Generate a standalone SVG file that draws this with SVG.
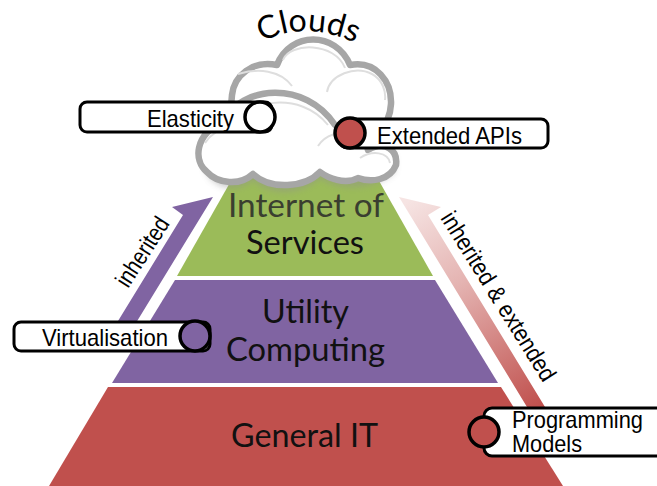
<svg xmlns="http://www.w3.org/2000/svg" width="657" height="486" viewBox="0 0 657 486">
  <style>
    .lab { font-family: "Liberation Sans", Arial, sans-serif; font-size: 24px; fill: #000; }
    .rot { font-family: "Liberation Sans", Arial, sans-serif; font-size: 24px; fill: #000; }
    .tier { font-family: Lato, "Open Sans", sans-serif; font-size: 32px; fill: #111; }
    .box { fill: #fff; stroke: #000; stroke-width: 3; }
    .dot { stroke: #000; stroke-width: 3.5; }
    .cloud { fill: #fff; stroke: #a6a6a6; stroke-width: 6.5; stroke-linejoin: round; }
    .shine { fill: none; stroke: #dedede; stroke-width: 2; }
  </style>
  <defs>
    <linearGradient id="fade" gradientUnits="userSpaceOnUse" x1="410" y1="200" x2="535" y2="410">
      <stop offset="0" stop-color="#f6e4e3"/>
      <stop offset="0.4" stop-color="#e4b3b1"/>
      <stop offset="1" stop-color="#c0504d"/>
    </linearGradient>
    <filter id="soft" x="-20%" y="-30%" width="140%" height="160%">
      <feGaussianBlur stdDeviation="3"/>
    </filter>
    <filter id="soft1" x="-10%" y="-10%" width="120%" height="120%">
      <feGaussianBlur stdDeviation="0.6"/>
    </filter>
    <path id="cloudArc" d="M262,42 Q312,16 372,52"/>
  </defs>

  <g id="connectors">
    <polygon fill="#8064a2" points="213,197 172,207 183,215 99,352 118,352 139,318"/>
    <polygon fill="url(#fade)" points="399,197 441,207 428,215 545,407 560,432 545,432 527,407"/>
  </g>

  <g id="tier-general-it">
    <polygon fill="#c0504d" points="108,387 501,387 563,486 49,486"/>
    <text class="tier" x="231" y="447" textLength="147" lengthAdjust="spacingAndGlyphs">General IT</text>
  </g>
  <g id="tier-utility-computing">
    <polygon fill="#8064a2" points="175,280 435,280 498,383 112,383"/>
    <text class="tier" x="262" y="323" textLength="87" lengthAdjust="spacingAndGlyphs">Utility</text>
    <text class="tier" x="226" y="361" textLength="159" lengthAdjust="spacingAndGlyphs">Computing</text>
  </g>
  <g id="tier-internet-of-services">
    <polygon fill="#9bbb59" points="236,172 374,172 433,276 177,276"/>
    <text class="tier" x="228" y="217" textLength="156" lengthAdjust="spacingAndGlyphs" style="fill:#3a3f30">Internet of</text>
    <text class="tier" x="246" y="254" textLength="118" lengthAdjust="spacingAndGlyphs">Services</text>
  </g>

  <g id="clouds">
    <path fill="#909090" opacity="0.45" filter="url(#soft)" d="M205,170 C215,192 240,192 253,180 C270,196 300,196 320,178 C340,192 375,190 395,172 L395,155 L205,155 Z"/>
    <g filter="url(#soft1)">
      <path class="cloud" d="M277,65 C290,31 336,31 350,65 C376,60 392,82 391,104 C390,125 375,145 340,150 L240,150 C232,130 230,112 232,95 C234,76 252,60 277,65 Z"/>
      <path class="cloud" d="M222,122 C242,85 305,80 335,125 C350,125 365,135 368,150 C385,140 398,150 396,165 C390,180 372,183 358,178 C345,185 328,178 320,172 C305,188 270,190 253,174 C240,186 218,184 207,172 C193,160 195,135 222,122 Z"/>
      <path class="shine" d="M238,74 C258,68 280,70 292,86 M283,60 C290,42 335,42 345,68 M327,92 C330,75 355,65 372,74 C383,80 386,92 385,100 M205,143 C212,132 222,128 232,126 M228,128 C245,100 300,90 328,125 M318,146 C325,135 340,130 352,135 M360,158 C372,150 388,152 390,163"/>
    </g>
    <text font-family="Lato, 'Open Sans', sans-serif" font-size="32" fill="#000"><textPath href="#cloudArc">Clouds</textPath></text>
  </g>

  <g id="label-inherited">
    <text class="rot" transform="translate(128,289) rotate(-57)" textLength="78" lengthAdjust="spacingAndGlyphs">inherited</text>
  </g>
  <g id="label-inherited-extended">
    <text class="rot" transform="translate(440,218) rotate(58)" textLength="195" lengthAdjust="spacingAndGlyphs">inherited &amp; extended</text>
  </g>

  <g id="elasticity">
    <rect class="box" x="80" y="102" width="192" height="30" rx="7"/>
    <text class="lab" x="147" y="127" textLength="87" lengthAdjust="spacingAndGlyphs">Elasticity</text>
    <circle class="dot" cx="260" cy="117" r="15" fill="#fff"/>
  </g>
  <g id="extended-apis">
    <rect class="box" x="340" y="119" width="208" height="29" rx="7"/>
    <text class="lab" x="377" y="144" textLength="145" lengthAdjust="spacingAndGlyphs">Extended APIs</text>
    <circle class="dot" cx="350" cy="133" r="15" fill="#c0504d"/>
  </g>
  <g id="virtualisation">
    <rect class="box" x="14" y="322" width="196" height="29" rx="7"/>
    <text class="lab" x="42" y="346" textLength="126" lengthAdjust="spacingAndGlyphs">Virtualisation</text>
    <circle class="dot" cx="195" cy="336" r="15" fill="#8064a2"/>
  </g>
  <g id="programming-models">
    <rect class="box" x="484" y="408" width="190" height="48" rx="8"/>
    <text class="lab" x="512" y="428" textLength="131" lengthAdjust="spacingAndGlyphs">Programming</text>
    <text class="lab" x="512" y="452" textLength="70" lengthAdjust="spacingAndGlyphs">Models</text>
    <circle class="dot" cx="484" cy="432" r="15" fill="#c0504d"/>
  </g>
</svg>
